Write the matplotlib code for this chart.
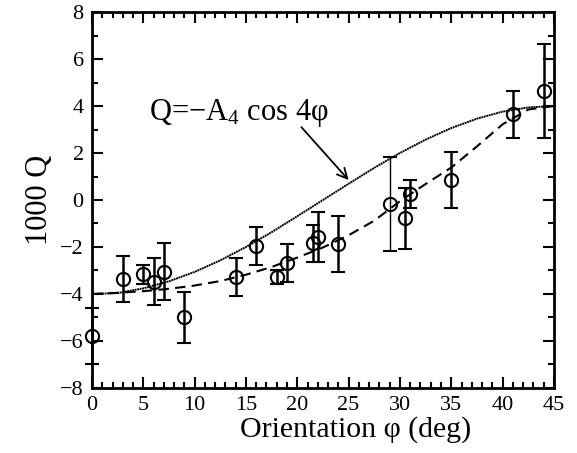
import numpy as np
import matplotlib
matplotlib.use("Agg")
import matplotlib.pyplot as plt
from matplotlib.ticker import MultipleLocator

plt.rcParams['font.family'] = ['Liberation Serif', 'DejaVu Serif']
plt.rcParams['mathtext.fontset'] = 'custom'
plt.rcParams['mathtext.rm'] = 'Liberation Serif'
plt.rcParams['mathtext.it'] = 'Liberation Serif:italic'

# measured points
phi = [0, 3, 5, 6, 7, 9, 14, 16, 18, 19, 21.5, 22, 24, 29, 30.5, 31, 35, 41, 44]
q = [-5.8, -3.38, -3.16, -3.47, -3.05, -5.0, -3.28, -1.97, -3.28, -2.68,
     -1.85, -1.58, -1.88, -0.17, -0.77, 0.24, 0.84, 3.65, 4.64]
q_err = [1.2, 0.98, 0.4, 1.0, 1.2, 1.08, 0.8, 0.8, 0.3, 0.8,
         0.8, 1.05, 1.2, 2.0, 1.3, 0.6, 1.2, 1.0, 2.0]

# curves
curve_phi = [0, 2.5, 5, 7.5, 10, 12.5, 15, 17.5, 20, 22.5, 25, 27.5, 30, 32.5,
             35, 37.5, 40, 42.5, 45]
cos4_q = [-4.0, -3.96, -3.76, -3.46, -3.06, -2.57, -2.0, -1.37, -0.69, 0.0,
          0.69, 1.37, 2.0, 2.57, 3.06, 3.46, 3.76, 3.94, 4.0]
fit_q = [-4.0, -3.95, -3.88, -3.78, -3.64, -3.45, -3.18, -2.85, -2.45, -2.02,
         -1.5, -0.88, -0.05, 0.68, 1.38, 2.28, 3.22, 3.85, 4.0]

fig = plt.figure(figsize=(5.77, 4.53), dpi=100)
ax = fig.add_axes([0.1594, 0.1435, 0.8006, 0.830])

ax.plot(curve_phi, cos4_q, color='black', lw=1.4, linestyle=(0, (1, 0.3)))
ax.plot(curve_phi, fit_q, color='black', lw=1.5, linestyle=(0, (5, 3)))

for p, v, e in zip(phi, q, q_err):
    w = 1.0 if p == 29 else 1.8
    ax.errorbar(p, v, yerr=e, fmt='o', ms=9.5, mfc='none', mec='black',
                mew=1.5, ecolor='black', elinewidth=w, capsize=5, capthick=w,
                clip_on=False, zorder=3)

ax.text(5.6, 3.4, 'Q=−A$_\\mathrm{4}$ cos 4φ', fontsize=22, ha='left',
        va='baseline')
ax.annotate('', xy=(25.0, 0.85), xytext=(20.4, 3.1),
            arrowprops=dict(arrowstyle='->', color='black', lw=1.3,
                            mutation_scale=18, shrinkA=0, shrinkB=0))

ax.set_xlim(0, 45)
ax.set_ylim(-8, 8)
ax.xaxis.set_major_locator(MultipleLocator(5))
ax.xaxis.set_minor_locator(MultipleLocator(1))
ax.yaxis.set_major_locator(MultipleLocator(2))
ax.yaxis.set_minor_locator(MultipleLocator(1))
ax.tick_params(which='both', direction='in', top=True, right=True,
               labelsize=16, width=1.5, colors='black')
ax.tick_params(which='major', length=8, pad=6)
ax.tick_params(which='minor', length=4)
for s in ax.spines.values():
    s.set_linewidth(2)

ax.set_xlabel('Orientation φ (deg)', fontsize=21.5, labelpad=0)
ax.xaxis.set_label_coords(0.57, -0.075)
ax.set_ylabel('1000 Q', fontsize=22, labelpad=4)

fig.savefig('out.png', dpi=100)
